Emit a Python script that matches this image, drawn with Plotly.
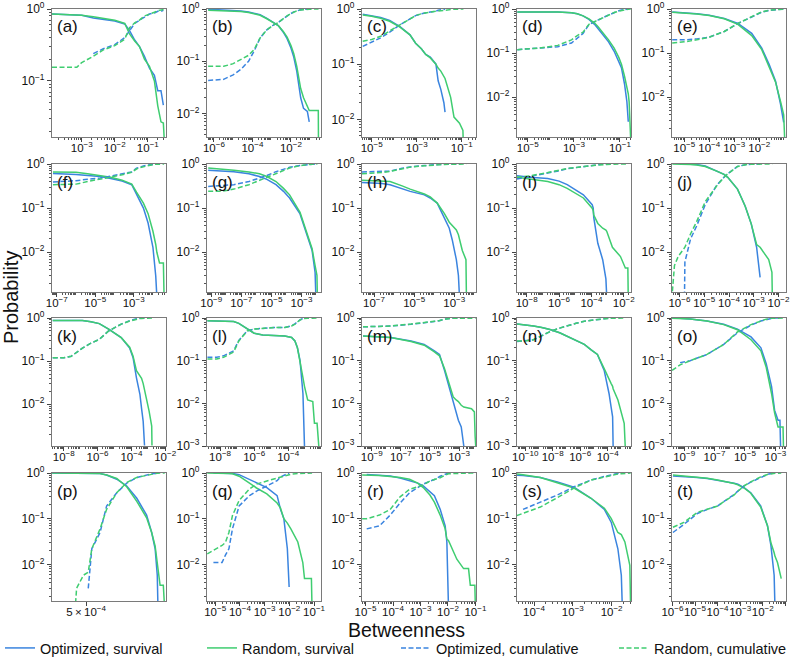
import math
import plotly.graph_objects as go

BLUE = "#3a84df"
GREEN = "#3fcd70"

PANELS = list("abcdefghijklmnopqrst")

# ---- per-panel data (betweenness, survival / cumulative probabilities) ----
a_x = [1.26e-4, 7.1e-4, 1e-3, 2.24e-3, 4.5e-3, 1e-2, 2e-2, 2.8e-2, 4e-2, 5.6e-2, 7.9e-2, 0.112, 0.158, 0.2, 0.25, 0.295, 0.33]
a_os = [0.85, 0.84, 0.82, 0.75, 0.72, 0.68, 0.62, 0.5, 0.37, 0.3, 0.22, 0.15, 0.12, 0.073, 0.073, 0.046, None]
a_rs = [0.85, 0.84, 0.82, 0.78, 0.74, 0.7, 0.63, 0.45, 0.36, 0.3, 0.2, 0.16, 0.1, 0.045, 0.027, 0.026, 0.01]
a_oc = [None, None, None, 0.24, 0.28, 0.32, 0.4, 0.5, 0.63, 0.7, 0.78, 0.85, 0.88, 0.93, 0.93, 0.96, None]
a_rc = [0.155, 0.155, 0.18, 0.22, 0.27, 0.31, 0.38, 0.55, 0.64, 0.7, 0.8, 0.84, 0.9, 0.95, 0.97, 0.98, 0.99]

b_x = [5e-7, 3.2e-6, 1e-5, 2.5e-5, 6.3e-5, 1.26e-4, 2.5e-4, 5.6e-4, 1.1e-3, 2.2e-3, 4e-3, 6.3e-3, 1e-2, 1.4e-2, 2e-2, 3.2e-2, 4.5e-2, 7.1e-2, 8.9e-2, 0.158, 0.263, 0.27]
b_os = [0.99, 0.97, 0.95, 0.92, 0.88, 0.84, 0.78, 0.66, 0.56, 0.48, 0.36, 0.27, 0.18, 0.12, 0.065, 0.02, 0.0125, 0.011, 0.0069, None, None, None]
b_rs = [0.95, 0.94, 0.93, 0.9, 0.86, 0.82, 0.76, 0.65, 0.56, 0.48, 0.37, 0.29, 0.2, 0.14, 0.08, 0.03, 0.02, 0.013, 0.0114, 0.0114, 0.0114, 0.002]
b_oc = [0.043, 0.045, 0.055, 0.07, 0.1, 0.16, 0.28, 0.4, 0.48, 0.55, 0.65, 0.74, 0.82, 0.88, 0.93, 0.97, 0.985, 0.99, 0.995, None, None, None]
b_rc = [0.08, 0.08, 0.09, 0.11, 0.13, 0.17, 0.28, 0.4, 0.48, 0.55, 0.66, 0.74, 0.82, 0.87, 0.92, 0.96, 0.98, 0.99, 0.99, 0.995, 1.0, 1.0]

c_x = [4e-6, 1e-5, 2.5e-5, 6.3e-5, 1.8e-4, 5e-4, 8.9e-4, 1.6e-3, 2.5e-3, 4e-3, 7.1e-3, 8.9e-3, 1.17e-2, 1.6e-2, 1.8e-2, 3.2e-2, 4.5e-2, 7.9e-2, 0.112, 0.118]
c_os = [0.8, 0.76, 0.7, 0.62, 0.48, 0.34, 0.24, 0.19, 0.15, 0.135, 0.1, 0.05, 0.035, 0.02, 0.0135, None, None, None, None, None]
c_rs = [0.78, 0.74, 0.68, 0.6, 0.47, 0.34, 0.24, 0.19, 0.15, 0.13, 0.1, 0.085, 0.075, 0.06, 0.055, 0.025, 0.011, 0.0085, 0.0063, 0.003]
c_oc = [0.21, 0.25, 0.3, 0.38, 0.52, 0.66, 0.76, 0.82, 0.86, 0.88, 0.91, 0.95, 0.965, 0.98, 0.99, None, None, None, None, None]
c_rc = [0.26, 0.28, 0.32, 0.4, 0.53, 0.67, 0.76, 0.82, 0.86, 0.88, 0.91, 0.92, 0.93, 0.95, 0.96, 0.98, 0.99, 0.995, 1.0, 1.0]

d_x = [3.5e-6, 3.2e-5, 2e-4, 7.9e-4, 1.4e-3, 2.5e-3, 4.5e-3, 7.9e-3, 1.1e-2, 3.2e-2, 5.6e-2, 8.9e-2, 0.117, 0.158, 0.2, 0.23, 0.25, 0.295]
d_os = [0.86, 0.86, 0.85, 0.82, 0.78, 0.7, 0.58, 0.45, 0.36, 0.18, 0.11, 0.065, 0.046, 0.02, 0.008, 0.0028, None, None]
d_rs = [0.86, 0.86, 0.85, 0.82, 0.78, 0.7, 0.6, 0.48, 0.4, 0.2, 0.13, 0.08, 0.055, 0.03, 0.018, 0.012, 0.008, 0.001]
d_oc = [0.12, 0.13, 0.14, 0.17, 0.22, 0.28, 0.44, 0.52, 0.56, 0.73, 0.84, 0.91, 0.95, 0.97, 0.99, 1.0, None, None]
d_rc = [0.12, 0.13, 0.15, 0.2, 0.25, 0.3, 0.45, 0.52, 0.56, 0.72, 0.83, 0.89, 0.93, 0.96, 0.98, 0.99, 0.995, 1.0]

e_x = [3.3e-6, 1e-5, 3.2e-5, 1e-4, 4e-4, 1.4e-3, 5e-3, 1.26e-2, 2.5e-2, 4.5e-2, 7.1e-2, 9.5e-2, 0.105]
e_os = [0.86, 0.83, 0.78, 0.72, 0.61, 0.47, 0.28, 0.13, 0.055, 0.023, 0.007, 0.0027, None]
e_rs = [0.84, 0.82, 0.77, 0.71, 0.6, 0.45, 0.25, 0.12, 0.05, 0.022, 0.008, 0.004, 0.001]
e_oc = [0.2, 0.2, 0.21, 0.23, 0.31, 0.47, 0.66, 0.85, 0.93, 0.96, 0.98, 1.0, None]
e_rc = [0.17, 0.18, 0.2, 0.23, 0.31, 0.47, 0.67, 0.86, 0.94, 0.97, 0.99, 1.0, 1.0]

f_x = [6.3e-8, 3.2e-7, 1e-6, 4e-6, 1.8e-5, 6.3e-5, 2.5e-4, 7.9e-4, 1.4e-3, 2.2e-3, 3.2e-3, 5.6e-3, 1e-2, 1.4e-2, 1.6e-2, 2.2e-2, 3.5e-2, 3.8e-2]
f_os = [0.61, 0.6, 0.58, 0.55, 0.52, 0.47, 0.41, 0.34, 0.2, 0.14, 0.1, 0.046, 0.013, 0.0029, 0.001, None, None, None]
f_rs = [0.66, 0.66, 0.65, 0.6, 0.55, 0.5, 0.43, 0.35, 0.23, 0.17, 0.13, 0.075, 0.03, 0.015, 0.01, 0.0057, 0.0057, 0.001]
f_oc = [0.39, 0.4, 0.42, 0.45, 0.48, 0.53, 0.59, 0.66, 0.8, 0.86, 0.9, 0.95, 0.99, 1.0, 1.0, None, None, None]
f_rc = [0.34, 0.34, 0.35, 0.4, 0.45, 0.5, 0.57, 0.65, 0.77, 0.83, 0.87, 0.93, 0.97, 0.985, 0.99, 0.995, 1.0, 1.0]

g_x = [6.3e-10, 3.2e-9, 1e-8, 3.2e-8, 3.2e-7, 1.6e-6, 5e-6, 2e-5, 6.3e-5, 1.6e-4, 7.9e-4, 2.2e-3, 5e-3, 7.9e-3, 8.9e-3, 1.05e-2, 1.12e-2]
g_os = [0.72, 0.7, 0.69, 0.67, 0.6, 0.52, 0.45, 0.34, 0.24, 0.17, 0.074, 0.026, 0.011, 0.0035, 0.001, None, None]
g_rs = [0.81, 0.78, 0.75, 0.72, 0.66, 0.6, 0.52, 0.4, 0.28, 0.2, 0.08, 0.028, 0.012, 0.005, 0.004, 0.003, 0.001]
g_oc = [0.31, 0.32, 0.33, 0.34, 0.4, 0.48, 0.55, 0.67, 0.77, 0.84, 0.93, 0.975, 0.99, 1.0, 1.0, None, None]
g_rc = [0.24, 0.24, 0.25, 0.27, 0.34, 0.43, 0.5, 0.62, 0.73, 0.81, 0.92, 0.975, 0.99, 0.995, 0.996, 1.0, 1.0]

h_x = [2.5e-8, 1e-7, 2.5e-7, 6.3e-7, 2.5e-6, 6.3e-6, 3.2e-5, 6.3e-5, 1.4e-4, 3.2e-4, 5.6e-4, 7.9e-4, 1.26e-3, 1.6e-3, 1.8e-3, 2.5e-3, 3.8e-3, 4e-3]
h_os = [0.38, 0.37, 0.36, 0.34, 0.28, 0.24, 0.2, 0.17, 0.13, 0.062, 0.035, 0.019, 0.0068, 0.003, 0.001, None, None, None]
h_rs = [0.43, 0.42, 0.41, 0.4, 0.32, 0.27, 0.21, 0.18, 0.13, 0.075, 0.048, 0.04, 0.032, 0.025, 0.02, 0.011, 0.0068, 0.001]
h_oc = [0.66, 0.67, 0.68, 0.69, 0.8, 0.86, 0.92, 0.95, 0.97, 0.985, 0.99, 0.995, 1.0, 1.0, 1.0, None, None, None]
h_rc = [0.6, 0.62, 0.64, 0.68, 0.78, 0.85, 0.91, 0.94, 0.97, 0.98, 0.985, 0.99, 0.995, 0.997, 0.998, 0.999, 1.0, 1.0]

i_x = [2.5e-9, 1.6e-8, 2e-7, 1e-6, 3.2e-6, 3.2e-5, 1.12e-4, 1.3e-4, 1.4e-4, 2.5e-4, 5e-4, 7.9e-4, 8.9e-4, 2e-3, 6.3e-3, 1.26e-2, 1.8e-2, 1.9e-2]
i_os = [0.54, 0.5, 0.47, 0.41, 0.34, 0.2, 0.12, 0.1, 0.062, 0.016, 0.0068, 0.0025, 0.001, None, None, None, None, None]
i_rs = [0.5, 0.46, 0.4, 0.34, 0.28, 0.17, 0.1, 0.087, 0.07, 0.045, 0.035, 0.032, 0.03, 0.013, 0.008, 0.0044, 0.0044, 0.001]
i_oc = [0.46, 0.52, 0.63, 0.7, 0.78, 0.88, 0.92, 0.94, 0.95, 0.985, 0.995, 1.0, 1.0, None, None, None, None, None]
i_rc = [0.5, 0.54, 0.64, 0.72, 0.79, 0.88, 0.92, 0.93, 0.94, 0.96, 0.97, 0.975, 0.98, 0.99, 0.995, 0.998, 1.0, 1.0]

j_x = [5.2e-7, 6.3e-7, 8.9e-7, 1.6e-6, 1.66e-6, 2.8e-6, 5e-6, 1.1e-5, 3.2e-5, 6.3e-5, 8.9e-5, 2.2e-4, 3.2e-4, 4.5e-4, 7.9e-4, 1.3e-3, 1.8e-3, 2e-3, 4e-3, 5.4e-3, 5.6e-3]
j_os = [None, None, None, 1.0, 1.0, 0.99, 0.97, 0.9, 0.7, 0.58, 0.5, 0.27, 0.17, 0.11, 0.044, 0.013, 0.0027, None, None, None, None]
j_rs = [1.0, 1.0, 0.99, 0.99, 0.99, 0.98, 0.95, 0.88, 0.69, 0.58, 0.5, 0.27, 0.17, 0.11, 0.044, 0.015, 0.013, 0.012, 0.0068, 0.0035, 0.001]
j_oc = [None, None, None, 0.001, 0.006, 0.02, 0.04, 0.12, 0.33, 0.5, 0.6, 0.88, 0.93, 0.96, 0.99, 1.0, 1.0, None, None, None, None]
j_rc = [0.0013, 0.005, 0.008, 0.012, 0.013, 0.026, 0.05, 0.14, 0.32, 0.5, 0.6, 0.88, 0.93, 0.96, 0.99, 0.995, 0.997, 0.998, 1.0, 1.0, 1.0]

k_x = [2.2e-9, 1e-8, 2.8e-8, 1.26e-7, 4e-7, 1.26e-6, 4.5e-6, 1.26e-5, 2.5e-5, 7.9e-5, 1.26e-4, 2e-4, 3.2e-4, 4e-4, 5e-4, 6e-4, 7.6e-4, 1.12e-3, 1.6e-3, 1.66e-3]
k_os = [0.88, 0.88, 0.88, 0.87, 0.82, 0.74, 0.55, 0.42, 0.35, 0.2, 0.12, 0.041, 0.017, 0.008, 0.004, 0.0011, None, None, None, None]
k_rs = [0.88, 0.88, 0.88, 0.87, 0.82, 0.74, 0.55, 0.42, 0.35, 0.21, 0.13, 0.06, 0.045, 0.04, 0.03, 0.02, 0.014, 0.0069, 0.0031, 0.0011]
k_oc = [0.12, 0.12, 0.13, 0.2, 0.26, 0.32, 0.5, 0.64, 0.72, 0.86, 0.92, 0.96, 0.985, 0.995, 1.0, 1.0, None, None, None, None]
k_rc = [0.12, 0.12, 0.13, 0.2, 0.26, 0.32, 0.5, 0.64, 0.72, 0.85, 0.9, 0.95, 0.97, 0.98, 0.985, 0.99, 0.993, 0.997, 0.999, 1.0]

l_x = [1.8e-9, 6.3e-9, 1.6e-8, 6.3e-8, 1.26e-7, 2.5e-7, 4e-7, 1e-6, 3.2e-6, 1.6e-5, 6.3e-5, 1.6e-4, 2.5e-4, 3.5e-4, 5e-4, 7.4e-4, 9.1e-4, 1.4e-3, 2.8e-3, 3.5e-3, 5e-3, 6.3e-3]
l_os = [0.86, 0.86, 0.86, 0.83, 0.75, 0.62, 0.55, 0.44, 0.4, 0.39, 0.38, 0.35, 0.29, 0.2, 0.1, 0.017, 0.001, None, None, None, None, None]
l_rs = [0.86, 0.86, 0.86, 0.83, 0.75, 0.62, 0.55, 0.44, 0.4, 0.39, 0.38, 0.35, 0.29, 0.2, 0.1, 0.04, 0.025, 0.012, 0.011, 0.0034, 0.0034, 0.001]
l_oc = [0.12, 0.12, 0.13, 0.17, 0.3, 0.42, 0.5, 0.55, 0.58, 0.6, 0.6, 0.66, 0.73, 0.82, 0.9, 0.98, 1.0, None, None, None, None, None]
l_rc = [0.11, 0.11, 0.12, 0.16, 0.29, 0.41, 0.5, 0.55, 0.58, 0.6, 0.6, 0.65, 0.72, 0.8, 0.9, 0.96, 0.975, 0.99, 0.99, 0.997, 0.997, 1.0]

m_x = [2.5e-10, 3.2e-9, 2e-8, 5e-7, 4e-6, 2e-5, 4.5e-5, 1e-4, 2.8e-4, 4e-4, 6.3e-4, 8.9e-4, 1.4e-3, 2.1e-3, 7.1e-3, 1.12e-2, 1.26e-2, 1.38e-2]
m_os = [0.38, 0.37, 0.35, 0.29, 0.24, 0.17, 0.14, 0.059, 0.017, 0.011, 0.0058, 0.004, 0.0028, 0.001, None, None, None, None]
m_rs = [0.38, 0.37, 0.35, 0.28, 0.23, 0.16, 0.13, 0.065, 0.02, 0.014, 0.012, 0.011, 0.009, 0.0082, 0.0075, 0.0063, 0.0017, 0.001]
m_oc = [0.62, 0.63, 0.65, 0.71, 0.76, 0.83, 0.86, 0.94, 0.98, 0.99, 0.994, 0.996, 0.997, 1.0, None, None, None, None]
m_rc = [0.62, 0.63, 0.65, 0.72, 0.77, 0.84, 0.87, 0.935, 0.98, 0.986, 0.988, 0.989, 0.991, 0.992, 0.993, 0.994, 0.998, 1.0]

n_x = [2.5e-11, 1e-10, 4e-10, 1.6e-9, 6.3e-9, 3.2e-8, 1e-7, 5e-7, 2e-6, 6.3e-6, 1.8e-5, 5.6e-5, 1.26e-4, 1.8e-4, 2.3e-4, 2.5e-4, 5.6e-4, 1.6e-3, 1.9e-3]
n_os = [0.72, 0.69, 0.65, 0.6, 0.54, 0.45, 0.38, 0.3, 0.24, 0.18, 0.14, 0.059, 0.017, 0.008, 0.0048, 0.001, None, None, None]
n_rs = [0.72, 0.69, 0.65, 0.6, 0.54, 0.45, 0.38, 0.3, 0.24, 0.18, 0.14, 0.065, 0.035, 0.029, 0.025, 0.022, 0.012, 0.0034, 0.001]
n_oc = [0.28, 0.29, 0.31, 0.38, 0.48, 0.58, 0.65, 0.75, 0.84, 0.89, 0.92, 0.96, 0.985, 0.995, 1.0, None, None, None, None]
n_rc = [0.29, 0.29, 0.31, 0.38, 0.48, 0.58, 0.65, 0.75, 0.84, 0.89, 0.92, 0.96, 0.98, 0.985, 0.988, 0.99, 0.995, 0.998, 1.0]

o_x = [1.6e-10, 5.4e-10, 2.5e-9, 3.2e-8, 4e-7, 3.2e-6, 2.5e-5, 1.12e-4, 2.5e-4, 5.6e-4, 8.9e-4, 1.5e-3, 2e-3, 2.2e-3, 3.2e-3, 3.4e-3]
o_os = [None, 0.98, 0.95, 0.85, 0.71, 0.55, 0.36, 0.2, 0.085, 0.025, 0.0069, 0.004, 0.004, 0.001, None, None]
o_rs = [0.99, 0.98, 0.95, 0.85, 0.7, 0.53, 0.31, 0.17, 0.07, 0.017, 0.006, 0.0028, 0.0028, 0.0028, 0.0028, 0.001]
o_oc = [None, 0.09, 0.1, 0.14, 0.24, 0.45, 0.68, 0.85, 0.93, 0.98, 0.995, 1.0, 1.0, None, None, None]
o_rc = [0.059, 0.08, 0.1, 0.14, 0.24, 0.47, 0.7, 0.86, 0.94, 0.985, 0.995, 0.997, 0.998, 0.998, 0.999, 1.0]

p_x = [3.72e-4, 4.54e-4, 4.6e-4, 4.88e-4, 5.09e-4, 5.25e-4, 5.64e-4, 5.97e-4, 6.52e-4, 7.11e-4, 7.76e-4, 8.45e-4, 8.83e-4, 9.1e-4, 9.27e-4, 9.33e-4, 9.5e-4, 9.77e-4, 9.89e-4]
p_os = [1.0, 1.0, 1.0, 1.0, 1.0, 0.99, 0.97, 0.9, 0.73, 0.52, 0.28, 0.12, 0.05, 0.022, 0.0058, 0.001, None, None, None]
p_rs = [1.0, 1.0, 1.0, 1.0, 1.0, 0.99, 0.97, 0.9, 0.76, 0.5, 0.24, 0.105, 0.05, 0.025, 0.012, 0.009, 0.0035, 0.0035, 0.001]
p_oc = [None, None, None, None, 0.003, 0.022, 0.05, 0.19, 0.37, 0.6, 0.8, 0.92, 0.96, 0.98, 0.995, 1.0, None, None, None]
p_rc = [0.001, 0.001, 0.003, 0.0058, 0.0068, 0.022, 0.06, 0.16, 0.37, 0.62, 0.8, 0.9, 0.95, 0.975, 0.99, 0.993, 0.997, 0.999, 1.0]

q_x = [4.8e-6, 8.5e-6, 1.9e-5, 2.6e-5, 3.6e-5, 5e-5, 9.3e-5, 2.45e-4, 4.7e-4, 1.23e-3, 3.2e-3, 4.4e-3, 6e-3, 8.3e-3, 9.8e-3, 1.15e-2, 2.2e-2, 3.5e-2, 4.1e-2, 7.8e-2, 8.3e-2]
q_os = [None, 1.0, 1.0, 0.99, 0.99, 0.98, 0.92, 0.73, 0.62, 0.48, 0.32, 0.16, 0.1, 0.022, 0.0032, None, None, None, None, None, None]
q_rs = [1.0, 1.0, 0.99, 0.99, 0.98, 0.96, 0.85, 0.6, 0.47, 0.35, 0.22, 0.17, 0.1, 0.08, 0.07, 0.06, 0.031, 0.011, 0.0049, 0.0049, 0.001]
q_oc = [None, 0.011, 0.011, 0.016, 0.022, 0.06, 0.19, 0.32, 0.4, 0.52, 0.68, 0.82, 0.9, 0.97, 1.0, None, None, None, None, None, None]
q_rc = [0.017, 0.02, 0.026, 0.03, 0.05, 0.117, 0.25, 0.45, 0.57, 0.67, 0.78, 0.83, 0.88, 0.92, 0.93, 0.94, 0.97, 0.99, 0.995, 0.999, 1.0]

r_x = [7.5e-6, 1.1e-5, 3.2e-5, 7.9e-5, 1.8e-4, 4e-4, 7.9e-4, 1.26e-3, 2.2e-3, 3.2e-3, 5.2e-3, 7.9e-3, 9.1e-3, 1.05e-2, 1.38e-2, 2.1e-2, 3.7e-2, 5.6e-2, 6.5e-2, 9.5e-2, 0.1]
r_os = [None, 0.93, 0.9, 0.86, 0.78, 0.68, 0.6, 0.52, 0.4, 0.32, 0.16, 0.07, 0.031, 0.001, None, None, None, None, None, None, None]
r_rs = [0.9, 0.9, 0.88, 0.84, 0.8, 0.73, 0.6, 0.48, 0.33, 0.23, 0.12, 0.06, 0.036, 0.033, 0.022, 0.013, 0.0081, 0.0081, 0.0035, 0.0035, 0.001]
r_oc = [None, 0.06, 0.07, 0.12, 0.22, 0.37, 0.48, 0.57, 0.66, 0.72, 0.85, 0.94, 0.97, 1.0, None, None, None, None, None, None, None]
r_rc = [0.1, 0.1, 0.12, 0.16, 0.3, 0.44, 0.5, 0.55, 0.67, 0.72, 0.79, 0.9, 0.94, 0.96, 0.97, 0.985, 0.992, 0.994, 0.996, 0.998, 1.0]

s_x = [3.6e-5, 5.2e-5, 1.45e-4, 4e-4, 1.07e-3, 2.95e-3, 6.5e-3, 9.8e-3, 1.45e-2, 1.78e-2, 1.9e-2, 2.2e-2, 2.95e-2, 3.1e-2]
s_os = [0.89, 0.88, 0.8, 0.64, 0.49, 0.28, 0.16, 0.083, 0.022, 0.0058, 0.001, None, None, None]
s_rs = [0.95, 0.92, 0.8, 0.62, 0.47, 0.28, 0.17, 0.1, 0.05, 0.045, 0.04, 0.031, 0.0095, 0.001]
s_oc = [None, 0.16, 0.23, 0.33, 0.5, 0.7, 0.84, 0.92, 0.98, 0.995, 1.0, None, None, None]
s_rc = [0.117, 0.13, 0.18, 0.29, 0.47, 0.7, 0.83, 0.9, 0.95, 0.96, 0.965, 0.97, 0.99, 1.0]

t_x = [1.05e-6, 3.2e-6, 1.26e-5, 3.5e-5, 1e-4, 2e-4, 5.4e-4, 7.9e-4, 1.48e-3, 2.95e-3, 8.1e-3, 1.62e-2, 2.3e-2, 3.2e-2, 3.5e-2, 4.5e-2, 6.3e-2, 6.6e-2]
t_os = [0.86, 0.84, 0.8, 0.76, 0.7, 0.67, 0.6, 0.57, 0.48, 0.37, 0.19, 0.07, 0.026, 0.0058, 0.001, None, None, None]
t_rs = [0.9, 0.86, 0.82, 0.77, 0.7, 0.66, 0.59, 0.55, 0.47, 0.36, 0.18, 0.07, 0.03, 0.018, 0.015, 0.011, 0.0049, 0.0049]
t_oc = [0.05, 0.075, 0.13, 0.16, 0.19, 0.24, 0.34, 0.4, 0.52, 0.63, 0.81, 0.93, 0.975, 0.995, 1.0, None, None, None]
t_rc = [0.065, 0.083, 0.137, 0.16, 0.19, 0.24, 0.33, 0.4, 0.52, 0.64, 0.82, 0.93, 0.97, 0.98, 0.985, 0.99, 0.995, 1.0]

# axis ranges (log10) and labelled decades for each panel
X_RANGES = [[-3.9, -0.45], [-6.36, -0.44], [-5.43, -0.37], [-5.47, -0.52], [-5.49, -0.93],
            [-7.25, -1.32], [-9.28, -1.71], [-7.6, -1.92], [-8.6, -1.55], [-6.3, -1.7],
            [-8.7, -1.95], [-8.77, -2.07], [-9.67, -1.84], [-10.6, -2.3], [-9.8, -2.3],
            [-3.43, -3.0], [-5.33, -0.72], [-5.13, -0.98], [-4.44, -1.5], [-6.02, -0.97]]
Y_BOTTOM = [-1.78, -2.45, -2.32, -2.9, -2.9,
            -2.9, -2.9, -2.9, -2.9, -2.9,
            -2.97, -3.0, -3.0, -3.0, -3.0,
            -2.8, -2.8, -2.8, -2.8, -2.8]
X_TICK_EXP = [[-3, -2, -1], [-6, -4, -2], [-5, -3, -1], [-5, -3, -1], [-5, -4, -3, -2],
              [-7, -5, -3], [-9, -7, -5, -3], [-7, -5, -3], [-8, -6, -4, -2], [-6, -5, -4, -3, -2],
              [-8, -6, -4, -2], [-8, -6, -4], [-9, -7, -5, -3], [-10, -8, -6, -4], [-9, -7, -5, -3],
              [], [-5, -4, -3, -2, -1], [-5, -4, -3, -2, -1], [-4, -3, -2], [-6, -5, -4, -3, -2, -1]]

SERIES = {k: (globals()[k + "_x"], globals()[k + "_os"], globals()[k + "_rs"],
              globals()[k + "_oc"], globals()[k + "_rc"]) for k in PANELS}

W, H = 793, 657
LEFTS = [52, 207, 362, 517, 672]
TOPS = [9, 164, 318, 473]
PW, PH = 114, 128
FONT = "Liberation Sans, Arial, sans-serif"


def sup(e):
    return "10<sup>" + ("\u2212" + str(-e) if e < 0 else str(e)) + "</sup>"


def minor_vals(lo, hi):
    out = []
    for e in range(math.floor(lo) - 1, math.ceil(hi) + 1):
        for k in range(2, 10):
            v = k * 10.0 ** e
            if lo <= math.log10(v) <= hi:
                out.append(v)
    return out


fig = go.Figure()
layout = {}
annotations = []
names = ["Optimized, survival", "Random, survival", "Optimized, cumulative", "Random, cumulative"]
styles = [(BLUE, "solid"), (GREEN, "solid"), (BLUE, "5px,2.5px"), (GREEN, "5px,2.5px")]
legends = ["legend", "legend2", "legend3", "legend4"]

for i, key in enumerate(PANELS):
    r, c = divmod(i, 5)
    n = "" if i == 0 else str(i + 1)
    x0, y0 = LEFTS[c], TOPS[r]
    xs = SERIES[key][0]
    for j in range(4):
        col, dash = styles[j]
        fig.add_trace(go.Scatter(
            x=xs, y=SERIES[key][j + 1], mode="lines", name=names[j],
            line=dict(color=col, width=1.5, dash=dash),
            xaxis="x" + n, yaxis="y" + n,
            showlegend=(i == 0), legend=legends[j], hoverinfo="skip"))

    xr = X_RANGES[i]
    if key == "p":
        xtv, xtt = [5e-4], ["5\u2009\u00d7\u200910<sup>\u22124</sup>"]
        xminor = []
    else:
        xtv = [10.0 ** e for e in X_TICK_EXP[i]]
        xtt = [sup(e) for e in X_TICK_EXP[i]]
        xminor = minor_vals(xr[0], xr[1])
    yr = [Y_BOTTOM[i], 0]
    ytv = [10.0 ** e for e in range(0, -4, -1) if e >= yr[0] - 1e-9]
    ytt = [sup(e) for e in range(0, -4, -1) if e >= yr[0] - 1e-9]

    common = dict(showgrid=False, zeroline=False, showline=True, mirror=True,
                  linecolor="#7a7a7a", linewidth=1.2, ticks="outside", ticklen=4,
                  tickwidth=1, tickcolor="#444", tickangle=0, automargin=False)
    layout["xaxis" + n] = dict(
        type="log", range=xr, anchor="y" + n,
        domain=[x0 / W, (x0 + PW) / W],
        tickmode="array", tickvals=xtv, ticktext=xtt, ticklabelstandoff=-4,
        tickfont=dict(size=11.5, color="#111", family=FONT),
        minor=dict(tickmode="array", tickvals=xminor, ticks="outside", ticklen=2,
                   tickcolor="#555", showgrid=False),
        **common)
    layout["yaxis" + n] = dict(
        type="log", range=yr, anchor="x" + n,
        domain=[1 - (y0 + PH) / H, 1 - y0 / H],
        tickmode="array", tickvals=ytv, ticktext=ytt,
        tickfont=dict(size=12, color="#111", family=FONT),
        minor=dict(tickmode="array", tickvals=minor_vals(yr[0], 0), ticks="outside",
                   ticklen=2, tickcolor="#555", showgrid=False),
        **common)
    annotations.append(dict(
        text="(" + key + ")", x=(x0 + 3) / W, y=1 - (y0 + 18) / H,
        xref="paper", yref="paper", xanchor="left", yanchor="middle",
        showarrow=False, font=dict(size=17, color="#111", family=FONT)))

annotations.append(dict(text="Betweenness", x=406 / W, y=1 - 630 / H, xref="paper", yref="paper",
                        showarrow=False, xanchor="center", yanchor="middle",
                        font=dict(size=19.5, color="#111", family=FONT)))
annotations.append(dict(text="Probability", x=11 / W, y=1 - 298 / H, xref="paper", yref="paper",
                        showarrow=False, textangle=-90, xanchor="center", yanchor="middle",
                        font=dict(size=20, color="#111", family=FONT)))

legend_x = [0, 202, 396, 614]
for j, lg in enumerate(legends):
    layout[lg] = dict(x=legend_x[j] / W, y=1 - 648 / H, xanchor="left", yanchor="middle",
                      xref="container", yref="container",
                      orientation="h", bgcolor="rgba(0,0,0,0)", borderwidth=0,
                      font=dict(size=14.5, color="#111", family=FONT))

fig.update_layout(
    width=W, height=H, margin=dict(l=0, r=0, t=0, b=0, autoexpand=False),
    paper_bgcolor="white", plot_bgcolor="white",
    annotations=annotations, **layout)

fig.write_html("out.html", config={"displayModeBar": False},
               post_script="document.body.style.margin='0px';"
                           "document.body.style.overflow='hidden';")
